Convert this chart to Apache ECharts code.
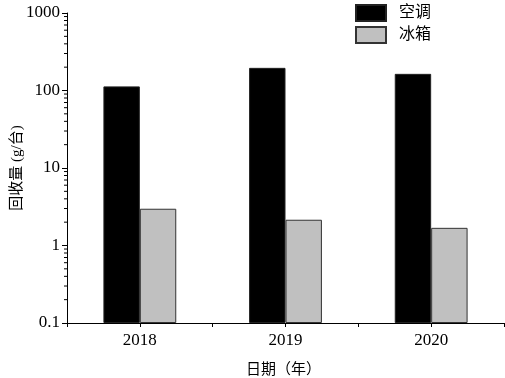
<!DOCTYPE html>
<html><head><meta charset="utf-8">
<script src="https://cdn.jsdelivr.net/npm/echarts@6/dist/echarts.min.js"></script>
<style>html,body{margin:0;padding:0;background:#fff}#c{width:505px;height:378px}</style>
</head><body><div id="c"></div>
<script>
var categories = ['2018', '2019', '2020'];
var acValues = [113, 196, 164];
var fridgeValues = [2.98, 2.15, 1.69];
var seriesNames = ['空调', '冰箱'];
var minorTickValues = [];
[0.1, 1, 10, 100].forEach(function (d) { for (var k = 2; k <= 9; k++) minorTickValues.push(+(d * k).toPrecision(3)); });

var FONT = 'Liberation Serif, "Noto Sans CJK SC", serif';
var chart = echarts.init(document.getElementById('c'));
chart.setOption({
  animation: false,
  textStyle: { fontFamily: FONT, color: '#000' },
  grid: { left: 67, right: 1, top: 13, bottom: 55, containLabel: false, outerBoundsMode: 'none' },
  legend: {
    orient: 'vertical', left: 355, top: 4, padding: 0, itemWidth: 30, itemHeight: 16, itemGap: 4,
    icon: 'rect',
    data: seriesNames,
    textStyle: { fontFamily: FONT, fontSize: 16, color: '#000', padding: [0, 0, 0, 8] }
  },
  xAxis: [{
    type: 'category', data: categories,
    name: '日期（年）', nameLocation: 'middle', nameGap: 40, nameMoveOverlap: false,
    nameTextStyle: { fontFamily: FONT, fontSize: 15, color: '#000', padding: [0, 4, 0, 0] },
    axisLine: { lineStyle: { color: '#000', width: 1 } },
    axisTick: { show: true, length: 4, lineStyle: { color: '#000' } },
    axisLabel: { fontFamily: FONT, fontSize: 17, color: '#000', margin: 9 }
  }, {
    type: 'category', data: categories, position: 'bottom',
    axisLine: { show: false },
    axisTick: { show: true, alignWithLabel: true, length: 4, lineStyle: { color: '#000' } },
    axisLabel: { show: false }
  }],
  yAxis: {
    type: 'log', logBase: 10, min: 0.1, max: 1000, startValue: 0.1,
    name: '回收量 (g/台)', nameLocation: 'middle', nameGap: 42, nameMoveOverlap: false,
    nameTextStyle: { fontFamily: FONT, fontSize: 15, color: '#000' },
    axisLine: { show: true, lineStyle: { color: '#000', width: 1 } },
    axisTick: { show: true, length: 5, lineStyle: { color: '#000' } },
    splitLine: { show: false },
    axisLabel: { fontFamily: FONT, fontSize: 17, color: '#000', margin: 7,
      formatter: function (v) { return String(+v.toPrecision(6)); } }
  },
  series: [{
    name: seriesNames[0], type: 'bar', data: acValues,
    barGap: '0%', barCategoryGap: '50%',
    itemStyle: { color: '#000', borderColor: '#222', borderWidth: 1 }
  }, {
    name: seriesNames[1], type: 'bar', data: fridgeValues,
    barGap: '0%', barCategoryGap: '50%',
    itemStyle: { color: '#c0c0c0', borderColor: '#333', borderWidth: 1 }
  }, {
    type: 'custom', silent: true, clip: false, z: 10,
    data: minorTickValues.map(function (v) { return [0, v]; }),
    renderItem: function (params, api) {
      var y = api.coord([0, api.value(1)])[1];
      var x = params.coordSys.x;
      return { type: 'line', shape: { x1: x - 3, y1: y, x2: x, y2: y }, style: { stroke: '#000', lineWidth: 1 } };
    }
  }]
});
</script></body></html>
